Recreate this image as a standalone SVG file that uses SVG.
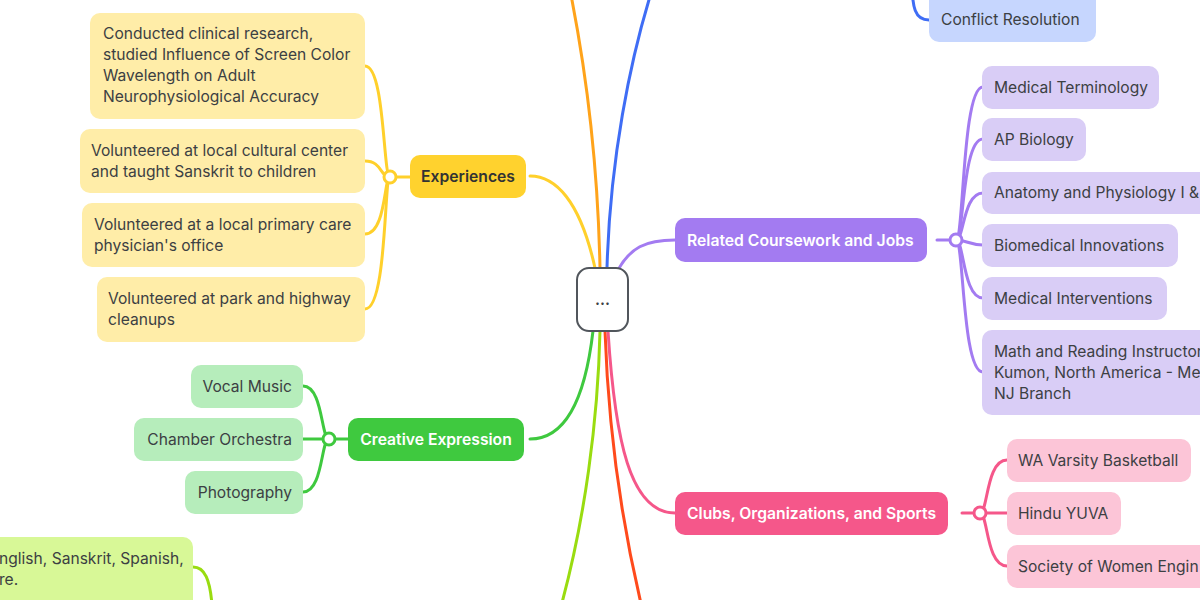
<svg xmlns="http://www.w3.org/2000/svg" width="1200" height="600" viewBox="0 0 1200 600">
<style>
.t{font-family:Inter,"Noto Sans","Liberation Sans",sans-serif;font-size:15.6px;fill:#3c4043}
.b{font-family:Inter,"Noto Sans","Liberation Sans",sans-serif;font-size:15.7px;font-weight:600}
.w{fill:#ffffff}
.c{fill:none;stroke-width:3;stroke-linecap:round}
.hub{fill:#ffffff;stroke-width:3}
.yl{stroke:#ffd02b}.or{stroke:#ffa31a}.bl{stroke:#3f6df5}.pu{stroke:#a37bf1}.gr{stroke:#3fc93f}.li{stroke:#99dc10}.rd{stroke:#ff4a1c}.pk{stroke:#f5578a}
</style>
<rect width="1200" height="600" fill="#ffffff"/>
<g id="connectors">
<path class="c or" d="M600 268 C598 170 588 80 570 -10"/>
<path class="c bl" d="M607 268 C610 160 630 60 652 -10"/>
<path class="c bl" d="M912 -20 C912 8 915 20 929 20"/>
<path class="c yl" d="M595 268 C580 200 555 176 530 176"/>
<path class="c pu" d="M618 270 C630 248 645 240 675 240"/>
<path class="c gr" d="M593 331 C585 400 565 439 530 439"/>
<path class="c li" d="M600 331 C598 420 585 520 560 610"/>
<path class="c rd" d="M605 331 C608 420 620 520 645 620"/>
<path class="c pk" d="M608 331 C615 440 630 513 675 513"/>
<path class="c yl" d="M390 177 L410 177"/>
<path class="c yl" d="M390 177 C383 177 385 66 365 66"/>
<path class="c yl" d="M390 177 C380 177 382 161 365 161"/>
<path class="c yl" d="M390 177 C384 177 386 234 365 234"/>
<path class="c yl" d="M390 177 C384 177 387 309 365 309"/>
<path class="c pu" d="M937 240 L956 240"/>
<path class="c pu" d="M956 240 C964 240 962 87 983 87"/>
<path class="c pu" d="M956 240 C964 240 962 139 983 139"/>
<path class="c pu" d="M956 240 C964 240 963 193 983 193"/>
<path class="c pu" d="M956 240 C966 240 970 245 983 245"/>
<path class="c pu" d="M956 240 C964 240 963 298 983 298"/>
<path class="c pu" d="M956 240 C964 240 962 372 983 372"/>
<path class="c gr" d="M329 439 L348 439"/>
<path class="c gr" d="M329 439 C321 439 323 386 303 386"/>
<path class="c gr" d="M329 439 L303 439"/>
<path class="c gr" d="M329 439 C321 439 323 492 303 492"/>
<path class="c li" d="M193 567 C205 567 210 580 212 605"/>
<path class="c pk" d="M962 513 L1007 513"/>
<path class="c pk" d="M980 513 C988 513 986 460 1007 460"/>
<path class="c pk" d="M980 513 C988 513 986 566 1007 566"/>
<circle class="hub yl" cx="390" cy="177" r="6"/>
<circle class="hub pu" cx="956" cy="240" r="6"/>
<circle class="hub gr" cx="329" cy="439" r="6"/>
<circle class="hub pk" cx="980" cy="513" r="6"/>
</g>
<g id="root">
<rect x="577" y="268" width="51" height="63" rx="12" fill="#ffffff" stroke="#51565c" stroke-width="2"/>
<text class="b" x="602.5" y="305" text-anchor="middle" fill="#3c4043">...</text>
</g>
<g id="conflict-resolution">
<rect x="929" y="-10" width="167" height="52" rx="10" fill="#c6d6fe"/>
<text class="t" x="941" y="25">Conflict Resolution</text>
</g>
<g id="experiences">
<rect x="410" y="155" width="116" height="43" rx="10" fill="#ffd22e"/>
<text class="b" x="468" y="182" text-anchor="middle" fill="#333333">Experiences</text>
</g>
<g id="exp-research">
<rect x="90" y="13" width="275" height="106" rx="10" fill="#ffeda8"/>
<text class="t" x="103" y="39">Conducted clinical research,</text>
<text class="t" x="103" y="60">studied Influence of Screen Color</text>
<text class="t" x="103" y="81">Wavelength on Adult</text>
<text class="t" x="103" y="102">Neurophysiological Accuracy</text>
</g>
<g id="exp-cultural">
<rect x="80" y="129" width="285" height="64" rx="10" fill="#ffeda8"/>
<text class="t" x="91" y="155.5">Volunteered at local cultural center</text>
<text class="t" x="91" y="176.5">and taught Sanskrit to children</text>
</g>
<g id="exp-physician">
<rect x="82" y="203" width="283" height="64" rx="10" fill="#ffeda8"/>
<text class="t" x="94" y="229.5">Volunteered at a local primary care</text>
<text class="t" x="94" y="250.5">physician's office</text>
</g>
<g id="exp-cleanups">
<rect x="97" y="277" width="268" height="65" rx="10" fill="#ffeda8"/>
<text class="t" x="108" y="303.5">Volunteered at park and highway</text>
<text class="t" x="108" y="324.5">cleanups</text>
</g>
<g id="coursework">
<rect x="675" y="218" width="252" height="44" rx="10" fill="#a37bf1"/>
<text class="b w" x="687" y="245.5">Related Coursework and Jobs</text>
</g>
<g id="cw-terminology">
<rect x="982" y="66" width="177" height="43" rx="10" fill="#d9cdf6"/>
<text class="t" x="994" y="92.5">Medical Terminology</text>
</g>
<g id="cw-biology">
<rect x="982" y="118" width="104" height="43" rx="10" fill="#d9cdf6"/>
<text class="t" x="994" y="144.5">AP Biology</text>
</g>
<g id="cw-anatomy">
<rect x="982" y="172" width="240" height="42" rx="10" fill="#d9cdf6"/>
<text class="t" x="994" y="198">Anatomy and Physiology I &amp;</text>
</g>
<g id="cw-biomedical">
<rect x="982" y="224" width="196" height="43" rx="10" fill="#d9cdf6"/>
<text class="t" x="994" y="250.5">Biomedical Innovations</text>
</g>
<g id="cw-interventions">
<rect x="982" y="277" width="185" height="43" rx="10" fill="#d9cdf6"/>
<text class="t" x="994" y="303.5">Medical Interventions</text>
</g>
<g id="cw-kumon">
<rect x="982" y="330" width="240" height="85" rx="10" fill="#d9cdf6"/>
<text class="t" x="994" y="356.5">Math and Reading Instructor</text>
<text class="t" x="994" y="377.5">Kumon, North America - Me</text>
<text class="t" x="994" y="398.5">NJ Branch</text>
</g>
<g id="creative">
<rect x="348" y="418" width="176" height="43" rx="10" fill="#3fc93f"/>
<text class="b w" x="436" y="444.5" text-anchor="middle">Creative Expression</text>
</g>
<g id="cr-vocal">
<rect x="191" y="365" width="112" height="43" rx="10" fill="#b6edbb"/>
<text class="t" x="292" y="391.5" text-anchor="end">Vocal Music</text>
</g>
<g id="cr-chamber">
<rect x="134" y="418" width="169" height="43" rx="10" fill="#b6edbb"/>
<text class="t" x="292" y="444.5" text-anchor="end">Chamber Orchestra</text>
</g>
<g id="cr-photo">
<rect x="185" y="471" width="118" height="43" rx="10" fill="#b6edbb"/>
<text class="t" x="292" y="497.5" text-anchor="end">Photography</text>
</g>
<g id="languages">
<rect x="-20" y="537" width="213" height="80" rx="10" fill="#d8f897"/>
<text class="t" x="-1" y="563.5">nglish, Sanskrit, Spanish,</text>
<text class="t" x="-1" y="584.5">re.</text>
</g>
<g id="clubs">
<rect x="675" y="492" width="273" height="43" rx="10" fill="#f5578a"/>
<text class="b w" x="687" y="518.5">Clubs, Organizations, and Sports</text>
</g>
<g id="cl-basketball">
<rect x="1007" y="439" width="184" height="43" rx="10" fill="#fcc5d7"/>
<text class="t" x="1018" y="465.5">WA Varsity Basketball</text>
</g>
<g id="cl-yuva">
<rect x="1007" y="492" width="114" height="43" rx="10" fill="#fcc5d7"/>
<text class="t" x="1018" y="518.5">Hindu YUVA</text>
</g>
<g id="cl-swe">
<rect x="1007" y="545" width="220" height="43" rx="10" fill="#fcc5d7"/>
<text class="t" x="1018" y="571.5">Society of Women Engin</text>
</g>
</svg>
